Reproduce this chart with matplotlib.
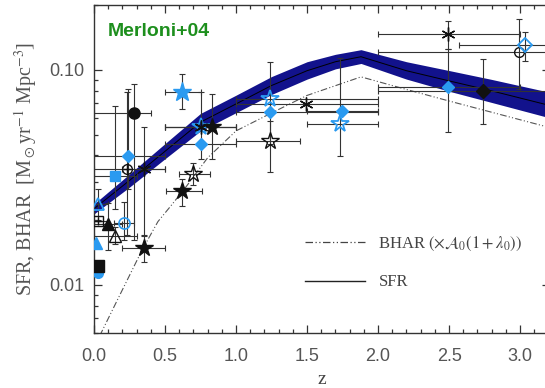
import numpy as np
import matplotlib.pyplot as plt
from matplotlib.lines import Line2D
from matplotlib.ticker import LogLocator, MultipleLocator, FuncFormatter, NullFormatter

plt.rcParams['mathtext.fontset'] = 'stix'

CYAN = "#2a9af0"
BLACK = "#111111"
EBAR = "#333333"
NAVY = "#12128c"

# SFR band (z, lower, upper) and BHAR curve
sfr_z = [0.0, 0.25, 0.5, 0.75, 1.0, 1.25, 1.5, 1.7, 1.88, 2.2, 2.5, 2.8, 3.25]
sfr_lo = [0.0214, 0.0285, 0.0386, 0.0520, 0.0632, 0.0768, 0.0905, 0.101, 0.107, 0.0905, 0.0795, 0.0705, 0.0588]
sfr_hi = [0.0238, 0.0328, 0.0454, 0.0627, 0.0762, 0.0930, 0.109, 0.118, 0.124, 0.109, 0.0992, 0.0902, 0.0775]
sfr_mid = [0.0226, 0.0306, 0.0418, 0.0571, 0.0694, 0.0845, 0.099, 0.109, 0.115, 0.099, 0.0888, 0.0798, 0.0672]

bhar_z = [0.04, 0.2, 0.34, 0.45, 0.55, 0.65, 0.8, 1.0, 1.25, 1.5, 1.88, 2.2, 2.5, 3.25]
bhar_v = [0.0058, 0.0095, 0.0146, 0.0197, 0.0237, 0.0287, 0.039, 0.052, 0.063, 0.076, 0.0927, 0.081, 0.0716, 0.053]

# data points: value, z range, value range
cstar_z = [0.62]
cstar_v = [0.079]
cstar_zr = [(0.50, 0.75)]
cstar_vr = [(0.066, 0.096)]

costar_z = [0.75, 1.24, 1.73]
costar_v = [0.054, 0.073, 0.056]
costar_zr = [(0.5, 1.0), (1.0, 2.0), (1.5, 2.0)]
costar_vr = [(0.0384, 0.0787), (0.045, 0.109), (0.0397, 0.113)]

bstar_z = [0.35, 0.62, 0.83]
bstar_v = [0.0148, 0.0272, 0.054]
bstar_zr = [(0.2, 0.5), (0.51, 0.76), (0.5, 1.0)]
bstar_vr = [(0.0128, 0.0171), (0.0232, 0.031), (0.0384, 0.0772)]

bostar_z = [0.70, 1.24]
bostar_v = [0.0327, 0.0467]
bostar_zr = [(0.6, 0.82), (1.0, 1.45)]
bostar_vr = [(0.029, 0.037), (0.0334, 0.058)]

cdiam_z = [0.24, 0.75, 1.24, 1.745, 2.495]
cdiam_v = [0.0397, 0.045, 0.0636, 0.0646, 0.083]
cdiam_zr = [(0.0, 0.5), (0.5, 1.0), (1.0, 2.0), (1.5, 2.0), (2.0, 3.0)]
cdiam_vr = [(0.028, 0.0815), (0.045, 0.045), (0.0636, 0.0636), (0.0646, 0.0646), (0.0513, 0.125)]

bast_z = [0.35, 0.75, 1.49, 2.495]
bast_v = [0.0345, 0.054, 0.0694, 0.147]
bast_zr = [(0.2, 0.5), (0.5, 1.0), (1.0, 2.0), (2.0, 3.0)]
bast_vr = [(0.0168, 0.054), (0.054, 0.054), (0.0694, 0.0694), (0.125, 0.169)]

bdiam_z = [2.74]
bdiam_v = [0.080]
bdiam_zr = [(2.0, 3.5)]
bdiam_vr = [(0.056, 0.1126)]

bocirc_z = [2.99, 0.23]
bocirc_v = [0.121, 0.0345]
bocirc_zr = [(2.0, 4.0), (0.0, 0.5)]
bocirc_vr = [(0.0815, 0.173), (0.0171, 0.0786)]

codiam_z = [3.035]
codiam_v = [0.130]
codiam_zr = [(2.57, 3.5)]
codiam_vr = [(0.110, 0.150)]

csq_z = [0.15]
csq_v = [0.0321]
csq_zr = [(0.0, 0.3)]
csq_vr = [(0.0225, 0.068)]

bsq_z = [0.03]
bsq_v = [0.0122]

cotri_z = [0.03]
cotri_v = [0.0237]
cotri_zr = [(0.0, 0.1)]
cotri_vr = [(0.020, 0.028)]

ctri_z = [0.015]
ctri_v = [0.0157]

btri_z = [0.10]
btri_v = [0.0191]
btri_zr = [(0.0, 0.2)]
btri_vr = [(0.0145, 0.024)]

botri_z = [0.15]
botri_v = [0.0168]
botri_zr = [(0.0, 0.3)]
botri_vr = [(0.0155, 0.0185)]

bcirc_z = [0.28]
bcirc_v = [0.063]
bcirc_zr = [(0.0, 0.40)]
bcirc_vr = [(0.0162, 0.086)]

cocirc_z = [0.213]
cocirc_v = [0.0194]
cocirc_zr = [(0.14, 0.28)]
cocirc_vr = [(0.0162, 0.0242)]

bosq_z = [0.03]
bosq_v = [0.0198]
bosq_zr = [(0.0, 0.1)]
bosq_vr = [(0.0198, 0.0198)]

fig = plt.figure(figsize=(5.45, 3.88), dpi=100)
ax = fig.add_axes([0.1725, 0.1425, 0.8365, 0.8446])


def points(z, v, zr=None, vr=None, **kw):
    z = np.asarray(z, float)
    v = np.asarray(v, float)
    if zr is not None:
        zr = np.asarray(zr, float)
        vr = np.asarray(vr, float)
        ax.errorbar(z, v, xerr=[z - zr[:, 0], zr[:, 1] - z],
                    yerr=[v - vr[:, 0], vr[:, 1] - v], fmt='none',
                    ecolor=EBAR, elinewidth=0.8, capsize=2.5, capthick=0.8, zorder=3)
    ax.plot(z, v, linestyle='none', zorder=4, **kw)


# SFR band
ax.fill_between(sfr_z, sfr_lo, sfr_hi, color=NAVY, lw=0, zorder=2)
ax.plot(sfr_z, sfr_mid, color='black', lw=0.7, zorder=2.5)
ax.plot(bhar_z, bhar_v, color='#555555', lw=0.8, ls=(0, (6, 2, 1, 2, 1, 2)), zorder=2.5)

points(bcirc_z, bcirc_v, bcirc_zr, bcirc_vr, marker='o', ms=8, mfc=BLACK, mec=BLACK)
points(cstar_z, cstar_v, cstar_zr, cstar_vr, marker='*', ms=14, mfc=CYAN, mec=CYAN)
points(costar_z, costar_v, costar_zr, costar_vr, marker='*', ms=13, mfc='none', mec=CYAN, mew=1.3)
points(bstar_z, bstar_v, bstar_zr, bstar_vr, marker='*', ms=13, mfc=BLACK, mec=BLACK)
points(bostar_z, bostar_v, bostar_zr, bostar_vr, marker='*', ms=13, mfc='none', mec=BLACK, mew=1.0)
points(cdiam_z, cdiam_v, cdiam_zr, cdiam_vr, marker='D', ms=6, mfc=CYAN, mec=CYAN)
points(bast_z, bast_v, bast_zr, bast_vr, marker=(6, 2, 0), ms=10, mec=BLACK, mew=1.0)
points(bdiam_z, bdiam_v, bdiam_zr, bdiam_vr, marker='D', ms=7, mfc=BLACK, mec=BLACK)
points(bocirc_z, bocirc_v, bocirc_zr, bocirc_vr, marker='o', ms=7, mfc='none', mec=BLACK, mew=1.0)
ax.plot(bocirc_z[1:], bocirc_v[1:], linestyle='none', marker='+', ms=6, mec=BLACK, zorder=4)
points(codiam_z, codiam_v, codiam_zr, codiam_vr, marker='D', ms=7, mfc='none', mec=CYAN, mew=1.3)
points(csq_z, csq_v, csq_zr, csq_vr, marker='s', ms=7, mfc=CYAN, mec=CYAN)
points(cotri_z, cotri_v, cotri_zr, cotri_vr, marker='^', ms=8, mfc='none', mec=CYAN, mew=1.3)
points(ctri_z, ctri_v, marker='^', ms=8, mfc=CYAN, mec=CYAN)
points(btri_z, btri_v, btri_zr, btri_vr, marker='^', ms=8, mfc=BLACK, mec=BLACK)
points(botri_z, botri_v, botri_zr, botri_vr, marker='^', ms=8, mfc='none', mec=BLACK, mew=1.0)
points(cocirc_z, cocirc_v, cocirc_zr, cocirc_vr, marker='o', ms=8, mfc='none', mec=CYAN, mew=1.2)
points(bosq_z, bosq_v, bosq_zr, bosq_vr, marker='s', ms=7, mfc='none', mec=BLACK, mew=1.0)
ax.plot(bosq_z, bosq_v, linestyle='none', marker='+', ms=6, mec=BLACK, zorder=4)
ax.plot(bsq_z, [0.0114], linestyle='none', marker='o', ms=7, mfc=CYAN, mec=CYAN, zorder=3.5)
points(bsq_z, bsq_v, marker='s', ms=8, mfc=BLACK, mec=BLACK)

# piece of a marker cut at the corner
ax.plot([3.23], [0.205], marker='v', ms=14, color='#f29a2e', clip_on=False, zorder=5)

ax.set_yscale('log')
ax.set_xlim(0, 3.21)
ax.set_ylim(0.006, 0.2)

ax.xaxis.set_major_locator(MultipleLocator(0.5))
ax.xaxis.set_minor_locator(MultipleLocator(0.1))
ax.xaxis.set_major_formatter(FuncFormatter(lambda x, p: f"{x:.1f}"))
ax.yaxis.set_major_locator(LogLocator(base=10, numticks=5))
ax.yaxis.set_minor_locator(LogLocator(base=10, subs=np.arange(2, 10), numticks=20))
ax.yaxis.set_major_formatter(FuncFormatter(lambda y, p: {0.01: "0.01", 0.1: "0.10"}.get(round(y, 3), "")))
ax.yaxis.set_minor_formatter(NullFormatter())

ax.tick_params(which='both', direction='in', top=True, right=True, colors='#333333',
               labelcolor='#555555', labelsize=13, width=0.9)
ax.tick_params(which='major', length=6, pad=7)
ax.tick_params(axis='x', which='major', pad=11)
ax.tick_params(which='minor', length=3)
for lab in ax.get_xticklabels() + ax.get_yticklabels():
    lab.set_family('Liberation Sans')
for s in ax.spines.values():
    s.set_color('#333333')
    s.set_linewidth(1.0)

ax.set_xlabel('z', family='Liberation Serif', fontsize=14, color='#444444', labelpad=4)
ax.set_ylabel(r'SFR, BHAR  [M$_\odot$yr$^{-1}$ Mpc$^{-3}$]', family='Liberation Serif',
              fontsize=14.5, color='#555555', labelpad=7)

ax.text(0.03, 0.92, 'Merloni+04', transform=ax.transAxes, color='#1d8f1d',
        fontsize=14, fontweight='bold', family='Liberation Sans', va='center')

handles = [Line2D([], [], color='#444444', lw=0.9, ls=(0, (6, 2, 1, 2, 1, 2))),
           Line2D([], [], color='#222222', lw=1.0)]
labels = [r'BHAR $(\times\mathcal{A}_0(1+\lambda_0))$', 'SFR']
leg = ax.legend(handles, labels, loc='upper left', bbox_to_anchor=(0.43, 0.345),
                frameon=False, handlelength=3.6, handletextpad=0.8, labelspacing=1.3,
                prop={'family': 'Liberation Serif', 'size': 12})
for t in leg.get_texts():
    t.set_color('#444444')

fig.savefig('out.png', dpi=100)
